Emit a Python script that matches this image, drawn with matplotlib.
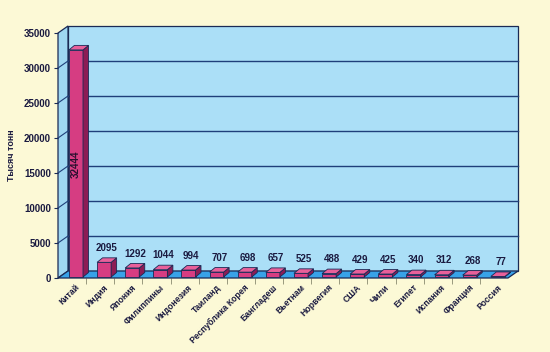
import matplotlib
matplotlib.use("Agg")
import matplotlib.pyplot as plt
from matplotlib.patches import Polygon

countries = ["Китай", "Индия", "Япония", "Филиппины", "Индонезия", "Таиланд",
             "Республика Корея", "Бангладеш", "Вьетнам", "Норвегия", "США", "Чили",
             "Египет", "Испания", "Франция", "Россия"]
values = [32444, 2095, 1292, 1044, 994, 707, 698, 657, 525, 488, 429, 425,
          340, 312, 268, 77]
yticks = [0, 5000, 10000, 15000, 20000, 25000, 30000, 35000]

plt.rcParams['font.family'] = ['Liberation Sans', 'DejaVu Sans']

BG = "#fcf9d6"
WALL = "#abdff7"
SIDE = "#9fd7f2"
FLOOR = "#38a2e8"
GRID = "#1f3f7a"
EDGE = "#1a2a55"
BAR_F = "#d63d82"
BAR_T = "#e8609a"
BAR_S = "#8c1c55"

fig = plt.figure(figsize=(5.5, 3.52), dpi=100, facecolor=BG)
L, R, B, T = 58, 508, 278, 33
ax = fig.add_axes([L / 550, 1 - B / 352, (R - L) / 550, (B - T) / 352])
ax.set_facecolor("none")
n = len(countries)
ymax = 35000
ax.set_xlim(0, n)
ax.set_ylim(0, ymax)

pxx = n / (R - L)          # data units per pixel x
pxy = ymax / (B - T)       # data units per pixel y
dx, dy = 10 * pxx, 7 * pxy

# back wall
ax.add_patch(Polygon([(dx, dy), (n + dx, dy), (n + dx, ymax + dy), (dx, ymax + dy)],
                     closed=True, fc=WALL, ec=EDGE, lw=0.9, clip_on=False, zorder=1))
# left side wall
ax.add_patch(Polygon([(0, 0), (dx, dy), (dx, ymax + dy), (0, ymax)],
                     closed=True, fc=SIDE, ec=EDGE, lw=0.9, clip_on=False, zorder=1))
# floor
ax.add_patch(Polygon([(0, 0), (n, 0), (n + dx, dy), (dx, dy)],
                     closed=True, fc=FLOOR, ec=EDGE, lw=0.9, clip_on=False, zorder=2))
# grid lines
for yv in yticks[1:-1]:
    ax.plot([dx, n + dx], [yv + dy, yv + dy], color=GRID, lw=1.0, zorder=1.5, clip_on=False)
    ax.plot([0, dx], [yv, yv + dy], color=GRID, lw=0.8, zorder=1.5, clip_on=False)

# bars
bw = 0.5
bdx, bdy = 5.5 * pxx, 4.5 * pxy
fx, fy = 2.5 * pxx, 1.0 * pxy
for i, v in enumerate(values):
    x0 = i + 0.3 + fx
    y0 = fy
    x1 = x0 + bw
    y1 = y0 + v
    ax.add_patch(Polygon([(x0, y0), (x1, y0), (x1, y1), (x0, y1)], closed=True,
                         fc=BAR_F, ec=EDGE, lw=0.6, zorder=3, clip_on=False))
    ax.add_patch(Polygon([(x1, y0), (x1 + bdx, y0 + bdy), (x1 + bdx, y1 + bdy), (x1, y1)],
                         closed=True, fc=BAR_S, ec=EDGE, lw=0.6, zorder=3, clip_on=False))
    ax.add_patch(Polygon([(x0, y1), (x1, y1), (x1 + bdx, y1 + bdy), (x0 + bdx, y1 + bdy)],
                         closed=True, fc=BAR_T, ec=EDGE, lw=0.6, zorder=3, clip_on=False))
    if i == 0:
        ax.text((x0 + x1) / 2, y1 / 2, f"{v}", rotation=90, ha="center", va="center",
                fontsize=7, fontweight="bold", color="#2a1030", zorder=4)
    else:
        ax.annotate(f"{v}", xy=((x0 + x1) / 2 + bdx / 2, y1 + bdy), xytext=(0, 3.5),
                    textcoords="offset points", ha="center", va="bottom",
                    fontsize=7, fontweight="bold", color="#1a1a40", zorder=4)

# axes ticks
for s in ax.spines.values():
    s.set_visible(False)
ax.set_yticks(yticks)
ax.set_yticklabels([str(t) for t in yticks], fontsize=7, fontweight="bold", color="#1a1a40")
ax.tick_params(axis="y", length=3, width=0.8, color=EDGE, pad=2)
ax.set_xticks([i + 0.62 for i in range(n)])
ax.set_xticklabels(countries, rotation=45, ha="right", va="top", rotation_mode="anchor",
                   fontsize=6.2, fontweight="bold", color="#1a1a40")
ax.tick_params(axis="x", length=0, pad=3.5)
ax.set_xticks(list(range(1, n)), minor=True)
ax.tick_params(axis="x", which="minor", length=4, width=0.6, color="#8a8a70")

fig.text(12 / 550, 1 - 155 / 352, "Тысяч тонн", rotation=90, ha="center", va="center",
         fontsize=6.5, fontweight="bold", color="#1a1a40")

fig.savefig("out.png", dpi=100, facecolor=BG)
